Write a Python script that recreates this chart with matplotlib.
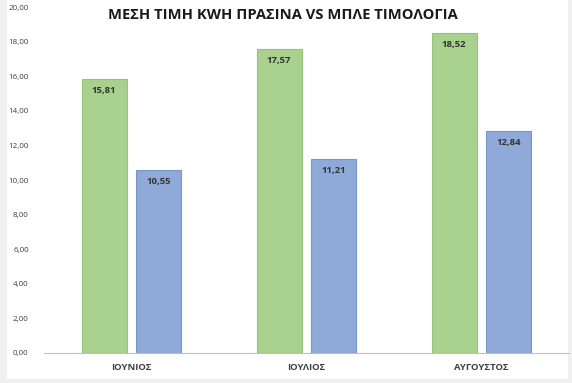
import numpy as np
import matplotlib.pyplot as plt
from matplotlib.patches import Rectangle

plt.rcParams['font.family'] = ['Open Sans', 'DejaVu Sans']

months = ['ΙΟΥΝΙΟΣ', 'ΙΟΥΛΙΟΣ', 'ΑΥΓΟΥΣΤΟΣ']
green_vals = [15.81, 17.57, 18.52]
blue_vals = [10.55, 11.21, 12.84]
yticks = np.arange(0, 21, 2)

W, H = 572, 383
fig = plt.figure(figsize=(W / 100, H / 100), dpi=100)
fig.patch.set_facecolor('#f0f0f0')
fig.patches.append(Rectangle((7 / W, 4 / H), 561 / W, 1 - 4 / H, transform=fig.transFigure,
                             facecolor='white', edgecolor='none', zorder=-5))

ax = fig.add_axes([44 / W, 1 - 353 / H, 525 / W, 346 / H])
ax.set_facecolor('none')
ax.set_zorder(2)

x = np.arange(len(months))
bw = 0.257
off = 0.157
gb = ax.bar(x - off, green_vals, bw, color='#a9d18e', edgecolor='#97c27a', linewidth=0.8)
bb = ax.bar(x + off, blue_vals, bw, color='#8faad9', edgecolor='#7a96c8', linewidth=0.8)

for bars, vals in ((gb, green_vals), (bb, blue_vals)):
    for b, v in zip(bars, vals):
        ax.annotate(f'{v:.2f}'.replace('.', ','), (b.get_x() + b.get_width() / 2, v),
                    xytext=(0, -7), textcoords='offset pixels', ha='center', va='top',
                    fontsize=6.8, fontweight='bold', color='#333333')

ax.set_xlim(-0.5, 2.5)
ax.set_ylim(0, 20)
ax.set_yticks(yticks)
ax.set_yticklabels([f'{t:.2f}'.replace('.', ',') for t in yticks], fontsize=5.8, color='#404040')
ax.set_xticks(x)
ax.set_xticklabels(months, fontsize=6.8, fontweight='bold', color='#404040')
ax.tick_params(axis='both', length=0)
ax.tick_params(axis='y', pad=11)
ax.tick_params(axis='x', pad=7)
for s in ('top', 'right', 'left'):
    ax.spines[s].set_visible(False)
ax.spines['bottom'].set_color('#bfbfbf')
ax.spines['bottom'].set_linewidth(0.8)

fig.text(283 / W, 1 - 15 / H, 'ΜΕΣΗ ΤΙΜΗ ΚWΗ ΠΡΑΣΙΝΑ VS ΜΠΛΕ ΤΙΜΟΛΟΓΙΑ', ha='center', va='center',
         fontsize=10.6, fontweight='bold', color='#1a1a1a', zorder=3)

fig.savefig('out.png', dpi=100)
